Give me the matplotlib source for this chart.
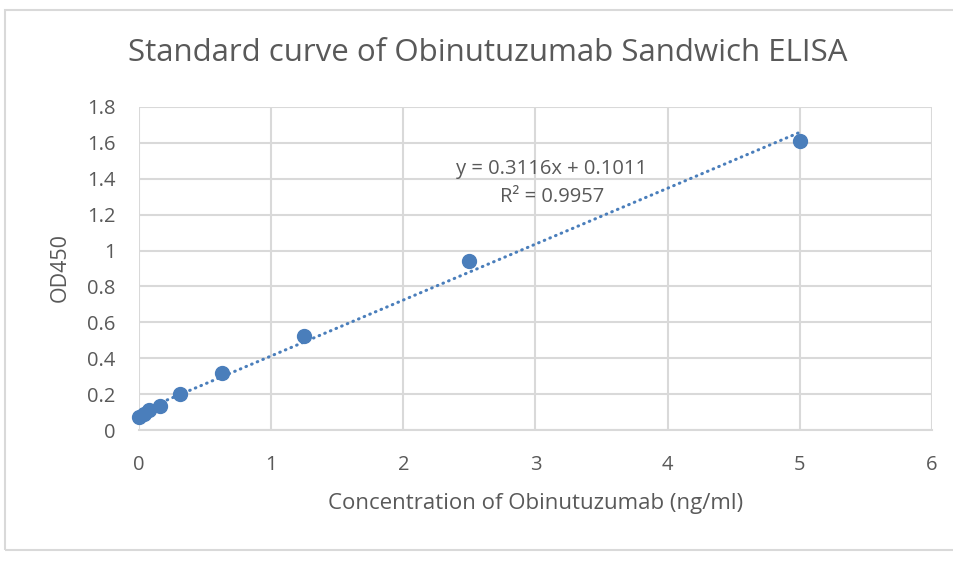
import matplotlib
matplotlib.use("Agg")
import matplotlib.pyplot as plt
from matplotlib.patches import Rectangle
import numpy as np

conc = [0, 0.039, 0.078, 0.156, 0.3125, 0.625, 1.25, 2.5, 5]
od450 = [0.07, 0.09, 0.11, 0.135, 0.20, 0.315, 0.522, 0.943, 1.612]
slope, intercept = 0.3116, 0.1011
eq_text = "y = 0.3116x + 0.1011"
r2_text = "R² = 0.9957"
title = "Standard curve of Obinutuzumab Sandwich ELISA"
xlabel = "Concentration of Obinutuzumab (ng/ml)"
ylabel = "OD450"

plt.rcParams['font.family'] = ['Open Sans', 'DejaVu Sans']
gray = '#595959'
blue = '#4a7ebb'

fig = plt.figure(figsize=(9.54, 5.87), dpi=100)
fig.patches.append(Rectangle((5/954, 1-550/587), 1.0, (550-10)/587, transform=fig.transFigure,
                             fill=False, edgecolor='#d9d9d9', linewidth=1.5))
ax = fig.add_axes([139/954, 1-430/587, (932-139)/954, (430-107)/587])

ax.set_xlim(0, 6)
ax.set_ylim(0, 1.8)
ax.set_xticks(range(0, 7))
ax.set_yticks(np.arange(0, 1.81, 0.2))
ax.set_yticklabels(['0', '0.2', '0.4', '0.6', '0.8', '1', '1.2', '1.4', '1.6', '1.8'])
ax.grid(True, color='#d9d9d9', linewidth=1.5)
ax.set_axisbelow(True)
for s in ['top', 'right', 'left']:
    ax.spines[s].set_visible(False)
ax.spines['bottom'].set_color('#d9d9d9')
ax.spines['bottom'].set_linewidth(1.5)
ax.tick_params(length=0, labelsize=14.5, labelcolor=gray)
ax.tick_params(axis='x', pad=18)
ax.tick_params(axis='y', pad=17)

xt = np.array([0, 5])
ax.plot(xt, slope * xt + intercept, linestyle=(0, (0.2, 1.8)), dash_capstyle='round',
        color=blue, linewidth=2.2, zorder=3)
ax.scatter(conc, od450, s=100, color=blue, zorder=4, clip_on=False)

ax.text(3.125, 1.455, eq_text, ha='center', va='center', fontsize=14.5, color=gray)
ax.text(3.125, 1.30, r2_text, ha='center', va='center', fontsize=14.5, color=gray)

fig.text(536/954, 1-503/587, xlabel, ha='center', va='center', fontsize=16, color=gray)
fig.text(60/954, 1-267/587, ylabel, ha='center', va='center', fontsize=15.5, color=gray,
         rotation=90)
fig.text(488/954, 1-53/587, title, ha='center', va='center', fontsize=22.5, color=gray)

fig.savefig('out.png', dpi=100)
